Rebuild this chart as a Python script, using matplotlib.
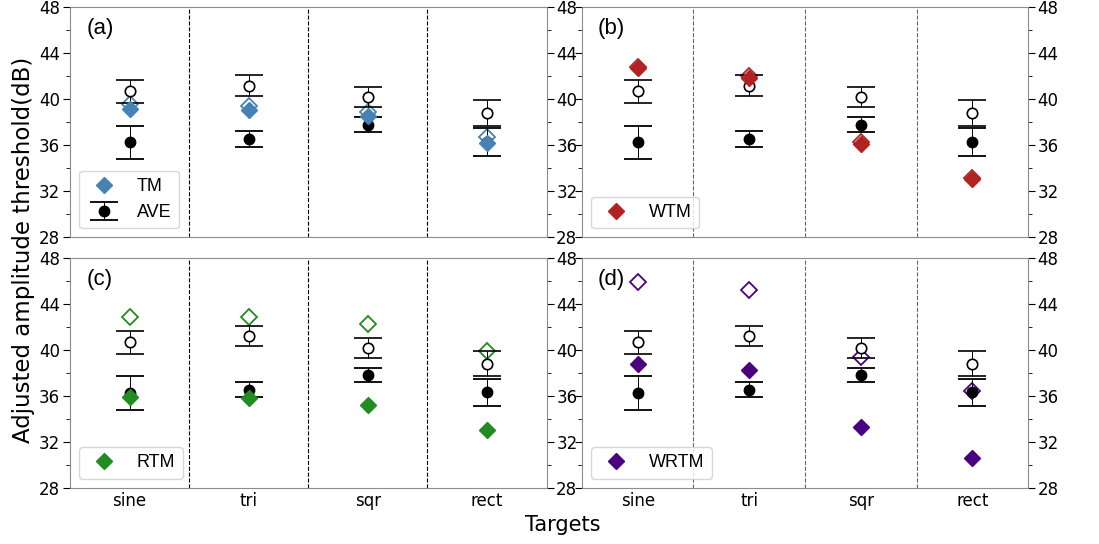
import numpy as np
import matplotlib.pyplot as plt
from matplotlib.ticker import MultipleLocator

targets = ['sine', 'tri', 'sqr', 'rect']

# AVE (filled = first condition, open = second condition)
ave_fill = [36.25, 36.55, 37.8, 36.3]
ave_fill_err = [1.45, 0.68, 0.62, 1.2]
ave_open = [40.7, 41.2, 40.2, 38.8]
ave_open_err = [1.0, 0.88, 0.85, 1.1]

# model thresholds
tm_fill = [39.2, 39.1, 38.55, 36.2]
tm_open = [39.6, 39.45, 38.9, 36.7]
wtm_fill = [42.7, 41.85, 36.15, 33.1]
wtm_open = [42.8, 42.05, 36.3, 33.2]
rtm_fill = [35.9, 35.8, 35.2, 33.0]
rtm_open = [42.9, 42.85, 42.25, 39.9]
wrtm_fill = [38.8, 38.3, 33.3, 30.6]
wrtm_open = [45.9, 45.2, 39.4, 36.4]

panels = [
    ('(a)', 'TM', tm_fill, tm_open, 'steelblue'),
    ('(b)', 'WTM', wtm_fill, wtm_open, 'firebrick'),
    ('(c)', 'RTM', rtm_fill, rtm_open, 'forestgreen'),
    ('(d)', 'WRTM', wrtm_fill, wrtm_open, 'indigo'),
]

W, H = 1099, 544
rects = [
    [70 / W, 1 - 237.3 / H, 476.5 / W, 230 / H],
    [582 / W, 1 - 237.3 / H, 446 / W, 230 / H],
    [70 / W, 1 - 487.7 / H, 476.5 / W, 229.4 / H],
    [582 / W, 1 - 487.7 / H, 446 / W, 229.4 / H],
]

sans = ['Liberation Sans', 'DejaVu Sans']


def main():
    fig = plt.figure(figsize=(W / 100, H / 100), dpi=100)
    x = np.arange(len(targets))

    for i, (tag, name, fill, opn, col) in enumerate(panels):
        ax = fig.add_axes(rects[i])
        left = i % 2 == 0
        bottom = i >= 2

        for xv in [0.5, 1.5, 2.5]:
            ax.axvline(xv, color='k' if left else '0.4', ls='--', lw=0.8, zorder=0)

        ax.plot(x, opn, 'D', ms=8, mfc='white', mec=col, mew=1.3, zorder=2)
        ax.errorbar(x, ave_open, yerr=ave_open_err, fmt='o', ms=7.5, mfc='white',
                    mec='k', mew=1.2, ecolor='k', elinewidth=0.7, capsize=10,
                    capthick=1.3, zorder=3)
        ax.errorbar(x, ave_fill, yerr=ave_fill_err, fmt='o', ms=7.5, color='k',
                    ecolor='k', elinewidth=0.7, capsize=10, capthick=1.3,
                    zorder=3, label='AVE')
        ax.plot(x, fill, 'D', ms=8, color=col, zorder=4, label=name)

        ax.set_xlim(-0.5, 3.5)
        ax.set_ylim(28, 48)
        ax.yaxis.set_major_locator(MultipleLocator(4))
        ax.yaxis.set_minor_locator(MultipleLocator(2))
        ax.set_xticks(x)
        ax.set_xticklabels(targets if bottom else [])
        ax.tick_params(axis='x', length=0, labelsize=12, pad=3)
        ax.tick_params(axis='y', which='both', left=True, right=True,
                       labelleft=left, labelright=True, labelsize=12, pad=2)
        ax.tick_params(axis='y', which='major', length=5)
        ax.tick_params(axis='y', which='minor', length=3)
        for s in ax.spines.values():
            s.set_color('0.55')

        ax.text(0.034, 0.955, tag, transform=ax.transAxes, fontsize=16,
                family=sans, va='top')

        h, l = ax.get_legend_handles_labels()
        keep = [name, 'AVE'] if i == 0 else [name]
        ax.legend([h[l.index(k)] for k in keep], keep, loc='lower left',
                  prop={'family': sans, 'size': 13})

    fig.text(0.021, (1 - 250 / H), 'Adjusted amplitude threshold(dB)', rotation=90,
             va='center', ha='center', fontsize=16.5)
    fig.text(563 / W, 1 - 531 / H, 'Targets', ha='center', va='baseline', fontsize=15)

    plt.savefig('out.png', dpi=100)


if __name__ == '__main__':
    main()
